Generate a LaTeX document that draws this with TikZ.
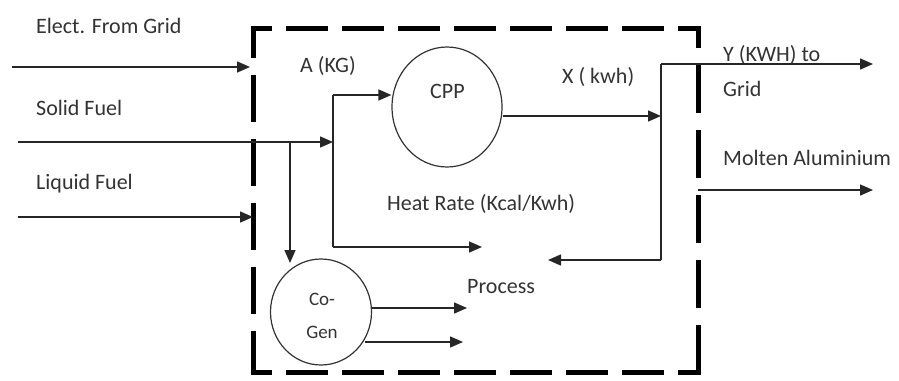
\documentclass[tikz,border=0pt]{standalone}
\usepackage{fontspec}
\setmainfont{Carlito}
\usetikzlibrary{arrows.meta,shapes.geometric}
\begin{document}
\begin{tikzpicture}[x=1pt,y=-1pt,
  lbl/.style={anchor=base west,inner sep=0pt,font=\fontsize{22}{24}\selectfont,text=black!80},
  smalllbl/.style={anchor=base,inner sep=0pt,font=\fontsize{19}{21}\selectfont,text=black!80},
  flow/.style={line width=1.5pt,draw=black!85,-{Triangle[length=13pt,width=11pt]}},
  wire/.style={line width=1.5pt,draw=black!85},
  unit/.style={draw=black!80,line width=1.2pt,ellipse,inner sep=0pt},
  boxline/.style={line width=5pt,draw=black}]
\fill[white] (0,0) rectangle (899,380);
\useasboundingbox (0,0) rectangle (899,380);

% dashed system boundary
\draw[boxline,dash pattern=on 42pt off 14pt,dash phase=23pt] (253,28) -- (698,28);
\draw[boxline,dash pattern=on 42pt off 14pt,dash phase=23pt] (253,372) -- (698,372);
\draw[boxline,dash pattern=on 47pt off 17pt,dash phase=17pt] (253,28) -- (253,372);
\draw[boxline,dash pattern=on 48pt off 17pt,dash phase=28pt] (698,28) -- (698,372);
\draw[boxline] (253,56) -- (253,28) -- (272,28);
\draw[boxline] (679,28) -- (698,28) -- (698,48);
\draw[boxline] (253,333) -- (253,372) -- (272,372);
\draw[boxline] (679,372) -- (698,372) -- (698,352);

% units
\node[unit,minimum width=110pt,minimum height=120pt] (cpp) at (447,107) {};
\node[unit,minimum width=101pt,minimum height=106pt] (cogen) at (321,312) {};

% labels
\node[lbl] (tgrid) at (36,33) {Elect. From Grid};
\node[lbl] (tsolid) at (36,115) {Solid Fuel};
\node[lbl] (tliquid) at (36,189) {Liquid Fuel};
\node[lbl] (takg) at (300,72) {A (KG)};
\node[lbl] (tcpp) at (430,98) {CPP};
\node[lbl] (txkwh) at (562,83) {X ( kwh)};
\node[lbl] (tykwh) at (723,61) {Y (KWH) to};
\node[lbl] (tygrid) at (723,96) {Grid};
\node[lbl] (tmolten) at (723,165) {Molten Aluminium};
\node[lbl] (theat) at (387,210) {Heat Rate (Kcal/Kwh)};
\node[lbl] (tproc) at (467,293) {Process};
\node[smalllbl] (tco) at (322,305) {Co-};
\node[smalllbl] (tgen) at (322,338) {Gen};

% coordinates
\coordinate (eg0) at (12,67);
\coordinate (eg1) at (250,67);
\coordinate (sf0) at (18,142);
\coordinate (br) at (290,142);
\coordinate (jmid) at (333,142);
\coordinate (jtop) at (333,95);
\coordinate (jbot) at (333,247);
\coordinate (cgin) at (290,263);
\coordinate (procin1) at (482,247);
\coordinate (lf0) at (18,217);
\coordinate (lf1) at (253,217);
\coordinate (xin) at (661,116);
\coordinate (rtop) at (661,64);
\coordinate (rbot) at (661,260);
\coordinate (yout) at (873,64);
\coordinate (procin2) at (548,260);
\coordinate (ma0) at (698,190);
\coordinate (ma1) at (873,190);
\coordinate (cg1) at (467,308);
\coordinate (cg2s) at (365,342);
\coordinate (cg2) at (463,342);

% connectors
\draw[flow] (eg0) -- (eg1);
\draw[flow] (sf0) -- (jmid);
\draw[flow] (br) -- (cgin);
\draw[wire] (jtop) -- (jbot);
\draw[flow] (jtop) -- (jtop -| cpp.west);
\draw[flow] (jbot) -- (procin1);
\draw[flow] (lf0) -- (lf1);
\draw[flow] (xin -| cpp.east) -- (xin);
\draw[wire] (rtop) -- (rbot);
\draw[flow] (rtop) -- (yout);
\draw[flow] (rbot) -- (procin2);
\draw[flow] (ma0) -- (ma1);
\draw[flow] (cg1 -| cogen.east) -- (cg1);
\draw[flow] (cg2s) -- (cg2);
\end{tikzpicture}
\end{document}
